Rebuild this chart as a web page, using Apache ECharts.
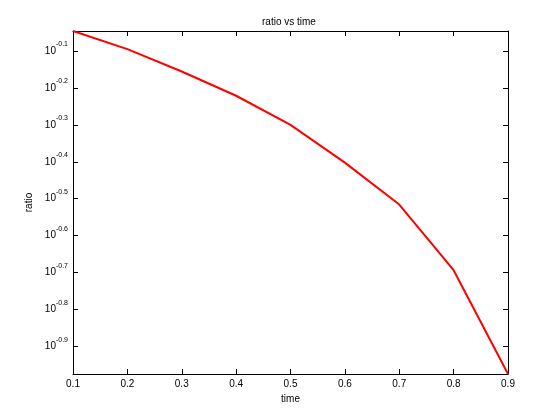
<!DOCTYPE html>
<html>
<head>
<meta charset="utf-8">
<script src="https://cdn.jsdelivr.net/npm/echarts@6/dist/echarts.min.js"></script>
<style>
html,body{margin:0;padding:0;background:#fff;}
#c{width:560px;height:420px;}
</style>
</head>
<body>
<div id="c"></div>
<script>
var time = [0.1, 0.2, 0.3, 0.4, 0.5, 0.6, 0.7, 0.8, 0.9];
var ratio = [0.900, 0.804, 0.699, 0.601, 0.501, 0.396, 0.305, 0.2025, 0.106];
var xTicks = [0.1, 0.2, 0.3, 0.4, 0.5, 0.6, 0.7, 0.8, 0.9];
var yTickExponents = [-0.9, -0.8, -0.7, -0.6, -0.5, -0.4, -0.3, -0.2, -0.1];

var FONT = '"Liberation Sans", Arial, Helvetica, sans-serif';
var yMin = Math.min.apply(null, ratio);
var yMax = Math.max.apply(null, ratio);

var chart = echarts.init(document.getElementById('c'), null, {renderer: 'canvas'});

function isTickExp(v) {
  for (var i = 0; i < yTickExponents.length; i++) {
    if (Math.abs(v - yTickExponents[i]) < 1e-6) return yTickExponents[i];
  }
  return null;
}

var tickStyle = {show: true, inside: true, length: 5, lineStyle: {color: '#000', width: 1}};
var lineStyle = {show: true, lineStyle: {color: '#000', width: 1}};

chart.setOption({
  animation: false,
  backgroundColor: '#fff',
  title: {
    text: 'ratio vs time',
    left: 257, top: 12,
    textStyle: {fontFamily: FONT, fontSize: 10, fontWeight: 'normal', color: '#000'}
  },
  grid: {left: 73, right: 52, top: 31, bottom: 46, containLabel: false},
  xAxis: [{
    type: 'value', min: xTicks[0], max: xTicks[xTicks.length - 1], interval: 0.1,
    position: 'bottom',
    name: 'time', nameLocation: 'middle', nameGap: 20,
    nameTextStyle: {fontFamily: FONT, fontSize: 10, color: '#000'},
    axisLine: lineStyle, axisTick: tickStyle, splitLine: {show: false},
    axisLabel: {fontFamily: FONT, fontSize: 10, color: '#000', margin: 5,
      formatter: function (v) { return v.toFixed(1); }}
  }, {
    type: 'value', min: xTicks[0], max: xTicks[xTicks.length - 1], interval: 0.1,
    position: 'top',
    axisLine: lineStyle, axisTick: tickStyle, splitLine: {show: false},
    axisLabel: {show: false}
  }],
  yAxis: [{
    type: 'value', min: Math.log10(yMin), max: Math.log10(yMax), splitNumber: 9,
    position: 'left',
    name: 'ratio', nameLocation: 'middle', nameGap: 34, nameRotate: 90,
    nameTextStyle: {fontFamily: FONT, fontSize: 10, color: '#000'},
    axisLine: lineStyle, axisTick: tickStyle, splitLine: {show: false},
    axisLabel: {
      margin: 5, color: '#000', fontFamily: FONT,
      showMinLabel: false, showMaxLabel: false,
      formatter: function (v) {
        var e = isTickExp(v);
        if (e === null) return '';
        return '{b|10}{s|' + e.toFixed(1) + '}';
      },
      rich: {
        b: {fontFamily: FONT, fontSize: 10, lineHeight: 10, color: '#000'},
        s: {fontFamily: FONT, fontSize: 7, lineHeight: 7, color: '#000', padding: [0, 0, 13, 0]}
      }
    }
  }, {
    type: 'value', min: Math.log10(yMin), max: Math.log10(yMax), splitNumber: 9,
    position: 'right',
    axisLine: lineStyle, axisTick: tickStyle, splitLine: {show: false},
    axisLabel: {show: false}
  }, {
    type: 'log', logBase: 10, min: yMin, max: yMax,
    show: false
  }],
  series: [{
    type: 'line',
    xAxisIndex: 0, yAxisIndex: 2,
    data: time.map(function (t, i) { return [t, ratio[i]]; }),
    showSymbol: false, symbol: 'none',
    lineStyle: {color: '#ff0000', width: 2},
    clip: true
  }]
});
</script>
</body>
</html>
